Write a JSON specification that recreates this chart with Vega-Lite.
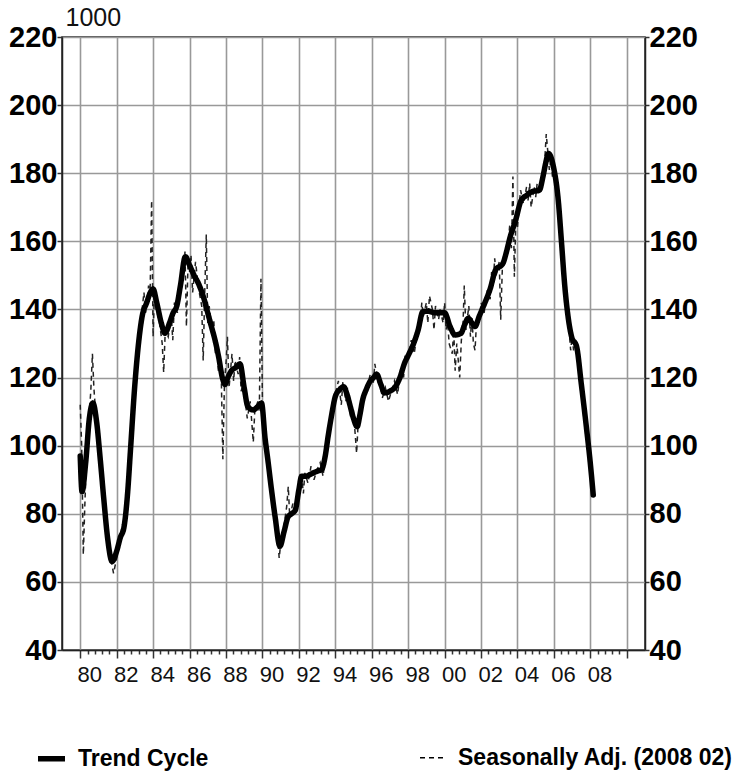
{
  "$schema": "https://vega.github.io/schema/vega-lite/v6.json",
  "width": 583,
  "height": 613,
  "autosize": {"type": "none"},
  "padding": {"left": 62, "top": 37, "right": 90, "bottom": 132},
  "background": "white",
  "config": {
    "font": "Liberation Sans",
    "view": {"stroke": "#222", "strokeWidth": 1.5},
    "axis": {"domainColor": "#222", "domainWidth": 1.5, "tickColor": "#333", "tickWidth": 1.5, "gridColor": "#999", "gridWidth": 1.6, "gridOpacity": 1}
  },
  "datasets": {
    "trend": [
      {"t":1980.0,"v":97},{"t":1980.1,"v":86.5},{"t":1980.3,"v":95},{"t":1980.5,"v":108},{"t":1980.7,"v":112.5},{"t":1980.9,"v":107},
      {"t":1981.1,"v":96},{"t":1981.3,"v":84},{"t":1981.5,"v":73},{"t":1981.75,"v":66},{"t":1982.0,"v":69},{"t":1982.2,"v":73},
      {"t":1982.4,"v":76},{"t":1982.6,"v":86},{"t":1982.75,"v":98},{"t":1983.0,"v":118},{"t":1983.2,"v":130},{"t":1983.4,"v":138},
      {"t":1983.65,"v":142},{"t":1983.85,"v":145},{"t":1984.0,"v":146},{"t":1984.2,"v":142},{"t":1984.45,"v":136},{"t":1984.65,"v":133},
      {"t":1984.9,"v":136},{"t":1985.1,"v":139},{"t":1985.3,"v":141},{"t":1985.5,"v":147},{"t":1985.77,"v":155.5},{"t":1986.0,"v":153},
      {"t":1986.25,"v":150},{"t":1986.5,"v":147.5},{"t":1986.8,"v":143},{"t":1987.0,"v":139},{"t":1987.2,"v":135},{"t":1987.4,"v":131},
      {"t":1987.6,"v":126},{"t":1987.8,"v":120},{"t":1987.95,"v":118},{"t":1988.1,"v":120},{"t":1988.3,"v":122},{"t":1988.55,"v":123},
      {"t":1988.77,"v":124},{"t":1989.0,"v":117},{"t":1989.2,"v":111.5},{"t":1989.5,"v":110.5},{"t":1989.75,"v":111.5},{"t":1989.95,"v":112.5},
      {"t":1990.15,"v":102},{"t":1990.3,"v":95.8},{"t":1990.5,"v":87},{"t":1990.7,"v":79},{"t":1990.96,"v":70.5},{"t":1991.2,"v":75},
      {"t":1991.4,"v":79},{"t":1991.6,"v":80},{"t":1991.8,"v":81},{"t":1992.0,"v":87},{"t":1992.15,"v":91},{"t":1992.4,"v":91},
      {"t":1992.6,"v":91.5},{"t":1992.8,"v":92},{"t":1993.0,"v":92.5},{"t":1993.25,"v":93},{"t":1993.45,"v":97},{"t":1993.6,"v":102.5},
      {"t":1993.8,"v":109},{"t":1994.0,"v":114.4},{"t":1994.25,"v":116.5},{"t":1994.45,"v":117.3},{"t":1994.65,"v":115},{"t":1994.8,"v":112},
      {"t":1995.0,"v":108},{"t":1995.2,"v":105.6},{"t":1995.35,"v":109},{"t":1995.5,"v":113.4},{"t":1995.7,"v":116.5},{"t":1995.9,"v":118.8},
      {"t":1996.1,"v":120},{"t":1996.27,"v":121},{"t":1996.5,"v":118},{"t":1996.7,"v":115.5},{"t":1997.0,"v":116},{"t":1997.3,"v":117.3},
      {"t":1997.55,"v":120},{"t":1997.8,"v":124.2},{"t":1998.05,"v":127},{"t":1998.3,"v":130},{"t":1998.55,"v":134},{"t":1998.8,"v":139.3},
      {"t":1999.1,"v":139.5},{"t":1999.47,"v":139},{"t":1999.75,"v":139},{"t":2000.0,"v":139},{"t":2000.3,"v":135},{"t":2000.57,"v":132.5},
      {"t":2000.9,"v":133},{"t":2001.1,"v":135.5},{"t":2001.3,"v":137.4},{"t":2001.5,"v":136},{"t":2001.67,"v":135},{"t":2001.9,"v":138},
      {"t":2002.2,"v":141.8},{"t":2002.5,"v":146},{"t":2002.8,"v":151.6},{"t":2003.2,"v":153.5},{"t":2003.4,"v":157},{"t":2003.6,"v":161.3},
      {"t":2003.9,"v":166.2},{"t":2004.2,"v":172},{"t":2004.5,"v":173.5},{"t":2004.8,"v":174.6},{"t":2005.2,"v":175},{"t":2005.4,"v":179},
      {"t":2005.55,"v":183},{"t":2005.7,"v":185.8},{"t":2005.97,"v":182},{"t":2006.24,"v":172},{"t":2006.42,"v":159.5},{"t":2006.6,"v":146.7},
      {"t":2006.8,"v":137},{"t":2006.97,"v":132},{"t":2007.25,"v":129},{"t":2007.5,"v":118.3},{"t":2007.8,"v":104.6},{"t":2007.98,"v":95.8},
      {"t":2008.16,"v":85.5}
    ],
    "sa": [
      {"t":1980.0,"v":112},{"t":1980.08,"v":100},{"t":1980.17,"v":68},{"t":1980.25,"v":82},{"t":1980.33,"v":94},{"t":1980.42,"v":104},
      {"t":1980.5,"v":110},{"t":1980.58,"v":116},{"t":1980.67,"v":127},{"t":1980.75,"v":117},{"t":1980.83,"v":111},{"t":1980.92,"v":106},
      {"t":1981.0,"v":101},{"t":1981.17,"v":90},{"t":1981.33,"v":82},{"t":1981.5,"v":74},{"t":1981.67,"v":67},{"t":1981.83,"v":62.5},
      {"t":1982.0,"v":67},{"t":1982.17,"v":73},{"t":1982.33,"v":77},{"t":1982.5,"v":80},{"t":1982.67,"v":92},{"t":1982.83,"v":104},
      {"t":1983.0,"v":117},{"t":1983.17,"v":128},{"t":1983.33,"v":137},{"t":1983.5,"v":145},{"t":1983.58,"v":139},{"t":1983.67,"v":141},
      {"t":1983.75,"v":147},{"t":1983.83,"v":143},{"t":1983.92,"v":172},{"t":1984.0,"v":132},{"t":1984.08,"v":146},{"t":1984.17,"v":140},
      {"t":1984.33,"v":137},{"t":1984.5,"v":130},{"t":1984.58,"v":121.5},{"t":1984.67,"v":134},{"t":1984.83,"v":132},{"t":1985.0,"v":138},
      {"t":1985.08,"v":131},{"t":1985.17,"v":142},{"t":1985.33,"v":139},{"t":1985.5,"v":146},{"t":1985.67,"v":150},{"t":1985.75,"v":157},
      {"t":1985.83,"v":135},{"t":1985.92,"v":154},{"t":1986.0,"v":151},{"t":1986.08,"v":156},{"t":1986.17,"v":145},{"t":1986.33,"v":154},
      {"t":1986.5,"v":146},{"t":1986.67,"v":141},{"t":1986.75,"v":125},{"t":1986.83,"v":144},{"t":1986.92,"v":162},{"t":1987.0,"v":136},
      {"t":1987.08,"v":141},{"t":1987.25,"v":133},{"t":1987.33,"v":137},{"t":1987.42,"v":127},{"t":1987.5,"v":131},{"t":1987.58,"v":122},
      {"t":1987.67,"v":126},{"t":1987.75,"v":118},{"t":1987.83,"v":96},{"t":1987.92,"v":119},{"t":1988.0,"v":124},{"t":1988.08,"v":132},
      {"t":1988.17,"v":117},{"t":1988.33,"v":127},{"t":1988.42,"v":119},{"t":1988.5,"v":125},{"t":1988.67,"v":121},{"t":1988.75,"v":126},
      {"t":1988.83,"v":116},{"t":1989.0,"v":119},{"t":1989.08,"v":112},{"t":1989.17,"v":108},{"t":1989.33,"v":113},{"t":1989.5,"v":101},
      {"t":1989.58,"v":110},{"t":1989.75,"v":113},{"t":1989.83,"v":110},{"t":1989.92,"v":149},{"t":1990.0,"v":114},{"t":1990.08,"v":106},
      {"t":1990.17,"v":99},{"t":1990.33,"v":94},{"t":1990.5,"v":86},{"t":1990.67,"v":80},{"t":1990.83,"v":74},{"t":1990.92,"v":67},
      {"t":1991.0,"v":71},{"t":1991.17,"v":76},{"t":1991.33,"v":82},{"t":1991.42,"v":88},{"t":1991.5,"v":79},{"t":1991.67,"v":83},
      {"t":1991.83,"v":80},{"t":1992.0,"v":88},{"t":1992.17,"v":90},{"t":1992.25,"v":86},{"t":1992.33,"v":92},{"t":1992.5,"v":89},
      {"t":1992.67,"v":94},{"t":1992.83,"v":90},{"t":1993.0,"v":93},{"t":1993.17,"v":95},{"t":1993.33,"v":91},{"t":1993.5,"v":99},
      {"t":1993.67,"v":104},{"t":1993.83,"v":111},{"t":1994.0,"v":115},{"t":1994.17,"v":119},{"t":1994.33,"v":112},{"t":1994.42,"v":119},
      {"t":1994.58,"v":113},{"t":1994.67,"v":117},{"t":1994.83,"v":109},{"t":1995.0,"v":110},{"t":1995.17,"v":97.8},{"t":1995.25,"v":106},
      {"t":1995.42,"v":111},{"t":1995.58,"v":114},{"t":1995.75,"v":117},{"t":1995.92,"v":121},{"t":1996.08,"v":118},{"t":1996.17,"v":124},
      {"t":1996.33,"v":119},{"t":1996.5,"v":117},{"t":1996.58,"v":114},{"t":1996.75,"v":117},{"t":1996.92,"v":113},{"t":1997.08,"v":116},
      {"t":1997.25,"v":119},{"t":1997.42,"v":115},{"t":1997.58,"v":122},{"t":1997.75,"v":120},{"t":1997.83,"v":126},{"t":1998.0,"v":125},
      {"t":1998.17,"v":131},{"t":1998.33,"v":127},{"t":1998.5,"v":133},{"t":1998.67,"v":137},{"t":1998.75,"v":142},{"t":1998.83,"v":138},
      {"t":1999.0,"v":142},{"t":1999.08,"v":136},{"t":1999.17,"v":144},{"t":1999.33,"v":140},{"t":1999.42,"v":134},{"t":1999.5,"v":141},
      {"t":1999.67,"v":137},{"t":1999.75,"v":140},{"t":1999.92,"v":136},{"t":2000.0,"v":142},{"t":2000.08,"v":134},{"t":2000.17,"v":136},
      {"t":2000.25,"v":130},{"t":2000.42,"v":127},{"t":2000.5,"v":134},{"t":2000.58,"v":122},{"t":2000.67,"v":130},{"t":2000.75,"v":125},
      {"t":2000.83,"v":120},{"t":2000.92,"v":131},{"t":2001.0,"v":134},{"t":2001.08,"v":147},{"t":2001.17,"v":134},{"t":2001.33,"v":141},
      {"t":2001.42,"v":132},{"t":2001.5,"v":138},{"t":2001.58,"v":130},{"t":2001.67,"v":128},{"t":2001.75,"v":136},{"t":2001.92,"v":137},
      {"t":2002.0,"v":142},{"t":2002.17,"v":139},{"t":2002.33,"v":145},{"t":2002.5,"v":143},{"t":2002.58,"v":151},{"t":2002.67,"v":148},
      {"t":2002.75,"v":155},{"t":2002.83,"v":150},{"t":2003.0,"v":154},{"t":2003.08,"v":137},{"t":2003.17,"v":152},{"t":2003.33,"v":157},
      {"t":2003.5,"v":160},{"t":2003.58,"v":165},{"t":2003.67,"v":158},{"t":2003.75,"v":179},{"t":2003.83,"v":149.6},{"t":2003.92,"v":168},
      {"t":2004.0,"v":164},{"t":2004.08,"v":170},{"t":2004.17,"v":175},{"t":2004.33,"v":171},{"t":2004.5,"v":176},{"t":2004.58,"v":172},
      {"t":2004.67,"v":177},{"t":2004.75,"v":170},{"t":2004.92,"v":176},{"t":2005.0,"v":173},{"t":2005.08,"v":177},{"t":2005.25,"v":174},
      {"t":2005.42,"v":180},{"t":2005.5,"v":184},{"t":2005.58,"v":191.5},{"t":2005.67,"v":186},{"t":2005.75,"v":181},{"t":2005.83,"v":184},
      {"t":2005.92,"v":179},{"t":2006.0,"v":181},{"t":2006.17,"v":174},{"t":2006.33,"v":165},{"t":2006.5,"v":153},{"t":2006.67,"v":142},
      {"t":2006.83,"v":134},{"t":2006.92,"v":128},{"t":2007.0,"v":132},{"t":2007.08,"v":128},{"t":2007.17,"v":131},{"t":2007.25,"v":127},
      {"t":2007.33,"v":124},{"t":2007.5,"v":118},{"t":2007.67,"v":110},{"t":2007.83,"v":103},{"t":2008.0,"v":95},{"t":2008.08,"v":90},
      {"t":2008.16,"v":85.5}
    ]
  },
  "layer": [
    {
      "data": {"name": "sa"},
      "mark": {"type": "line", "color": "#222", "strokeDash": [3, 2], "clip": true},
      "encoding": {
        "x": {
          "field": "t", "type": "quantitative",
          "scale": {"domain": [1979, 2011], "nice": false, "zero": false},
          "axis": {
            "orient": "bottom", "title": null, "domain": false, "ticks": false, "grid": false,
            "values": [1980.5,1982.5,1984.5,1986.5,1988.5,1990.5,1992.5,1994.5,1996.5,1998.5,2000.5,2002.5,2004.5,2006.5,2008.5],
            "labelExpr": "slice('0' + (floor(datum.value) % 100), -2)",
            "labelFontSize": 22, "labelColor": "#111", "labelPadding": 14, "labelFlush": false, "labelOverlap": false
          }
        },
        "y": {
          "field": "v", "type": "quantitative",
          "scale": {"domain": [40, 220], "nice": false, "zero": false},
          "axis": {
            "orient": "right", "title": null, "grid": false,
            "values": [40,60,80,100,120,140,160,180,200,220],
            "tickSize": 4, "labelPadding": 0, "labelFontSize": 29, "labelFontWeight": "bold",
            "labelColor": "#000", "labelBaseline": "middle", "labelFlush": false, "labelOverlap": false
          }
        },
        "strokeDash": {
          "datum": "Seasonally Adj. (2008 02)",
          "scale": {"domain": ["Trend Cycle", "Seasonally Adj. (2008 02)"], "range": [[1, 0], [5, 4]]},
          "legend": {
            "title": null, "orient": "none", "legendX": -27, "legendY": 705, "direction": "horizontal",
            "symbolType": "stroke", "symbolSize": 729, "symbolStrokeColor": "#000",
            "labelFontSize": 23, "labelFontWeight": "bold", "labelColor": "#000", "labelOffset": 10,
            "columnPadding": 208, "labelLimit": 0, "padding": 0
          }
        },
        "strokeWidth": {
          "datum": "Seasonally Adj. (2008 02)",
          "scale": {"domain": ["Trend Cycle", "Seasonally Adj. (2008 02)"], "range": [5.5, 1.5]}
        }
      }
    },
    {
      "data": {"name": "trend"},
      "mark": {"type": "line", "color": "#000", "interpolate": "monotone", "strokeCap": "round", "strokeJoin": "round", "clip": true},
      "encoding": {
        "x": {
          "field": "t", "type": "quantitative",
          "axis": {
            "orient": "bottom", "title": null, "labels": false, "grid": true,
            "values": [1980,1980.4,1980.8,1981.2,1981.6,1982,1982.4,1982.8,1983.2,1983.6,1984,1984.4,1984.8,1985.2,1985.6,1986,1986.4,1986.8,1987.2,1987.6,1988,1988.4,1988.8,1989.2,1989.6,1990,1990.4,1990.8,1991.2,1991.6,1992,1992.4,1992.8,1993.2,1993.6,1994,1994.4,1994.8,1995.2,1995.6,1996,1996.4,1996.8,1997.2,1997.6,1998,1998.4,1998.8,1999.2,1999.6,2000,2000.4,2000.8,2001.2,2001.6,2002,2002.4,2002.8,2003.2,2003.6,2004,2004.4,2004.8,2005.2,2005.6,2006,2006.4,2006.8,2007.2,2007.6,2008,2008.4,2008.8,2009.2,2009.6,2010],
            "tickSize": {"condition": {"test": "abs(datum.value/2 - round(datum.value/2)) < 0.01", "value": 8}, "value": 4},
            "gridOpacity": {"condition": {"test": "abs(datum.value/2 - round(datum.value/2)) < 0.01", "value": 1}, "value": 0}
          }
        },
        "y": {
          "field": "v", "type": "quantitative",
          "axis": {
            "orient": "left", "grid": true,
            "values": [40,60,80,100,120,140,160,180,200,220],
            "tickSize": 5, "labelPadding": 0, "labelFontSize": 29, "labelFontWeight": "bold",
            "labelColor": "#000", "labelBaseline": "middle", "labelFlush": false, "labelOverlap": false,
            "title": "1000", "titleAngle": 0, "titleAlign": "left", "titleBaseline": "alphabetic",
            "titleX": 3, "titleY": -12, "titleFontSize": 25, "titleFontWeight": "normal", "titleColor": "#111"
          }
        },
        "strokeDash": {"datum": "Trend Cycle"},
        "strokeWidth": {"datum": "Trend Cycle"}
      }
    }
  ],
  "resolve": {"axis": {"x": "independent", "y": "independent"}}
}
